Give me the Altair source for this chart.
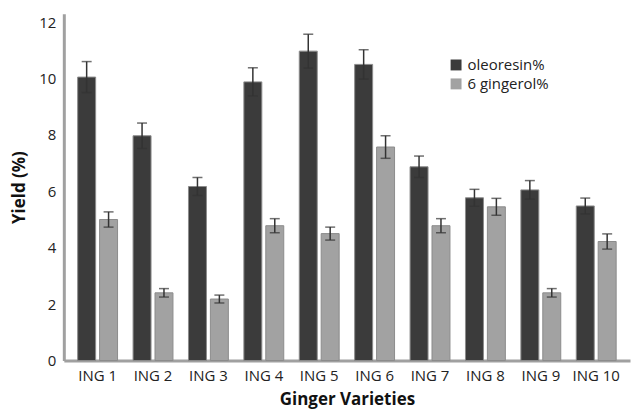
import altair as alt
import pandas as pd

categories = ["ING 1", "ING 2", "ING 3", "ING 4", "ING 5", "ING 6", "ING 7", "ING 8", "ING 9", "ING 10"]
oleoresin = [10.05, 7.97, 6.17, 9.88, 10.97, 10.5, 6.87, 5.77, 6.05, 5.48]
oleoresin_err = [0.55, 0.45, 0.32, 0.5, 0.6, 0.52, 0.38, 0.3, 0.33, 0.28]
gingerol = [5.0, 2.4, 2.18, 4.78, 4.5, 7.57, 4.78, 5.45, 2.4, 4.22]
gingerol_err = [0.27, 0.15, 0.14, 0.25, 0.23, 0.4, 0.25, 0.3, 0.15, 0.27]
series = ["oleoresin%", "6 gingerol%"]

rows = []
for i, c in enumerate(categories):
    rows.append({"cat": c, "series": series[0], "val": oleoresin[i],
                 "lo": oleoresin[i] - oleoresin_err[i], "hi": oleoresin[i] + oleoresin_err[i]})
    rows.append({"cat": c, "series": series[1], "val": gingerol[i],
                 "lo": gingerol[i] - gingerol_err[i], "hi": gingerol[i] + gingerol_err[i]})
df = pd.DataFrame(rows)

FONT = "Open Sans"
x = alt.X("cat:N", sort=categories, title="Ginger Varieties",
          scale=alt.Scale(paddingInner=0.28, paddingOuter=0.25),
          axis=alt.Axis(labelAngle=0, ticks=False, domainColor="#a0a0a0", domainWidth=3,
                        labelFont=FONT, labelFontSize=15, labelColor="#222",
                        labelPadding=8, titleFont=FONT, titleFontSize=17,
                        titleFontWeight="bold", titleColor="#111", titlePadding=8))
xo = alt.XOffset("series:N", sort=series, scale=alt.Scale(paddingInner=0.18))
ysc = alt.Scale(domain=[0, 12.3], nice=False)

bars = alt.Chart(df).mark_bar(stroke="#8c8c8c", strokeWidth=1).encode(
    x=x, xOffset=xo,
    y=alt.Y("val:Q", scale=ysc, title="Yield (%)",
            axis=alt.Axis(values=[0, 2, 4, 6, 8, 10, 12], ticks=False, grid=False,
                          domainColor="#a0a0a0", domainWidth=3, labelFont=FONT,
                          labelFontSize=15, labelColor="#222", labelPadding=8,
                          titleFont=FONT, titleFontSize=17, titleFontWeight="bold",
                          titleColor="#111", titlePadding=10)),
    color=alt.Color("series:N", sort=series,
                    scale=alt.Scale(domain=series, range=["#3b3b3b", "#a2a2a2"]),
                    legend=alt.Legend(title=None, orient="none", legendX=386, legendY=44,
                                      symbolType="square", symbolSize=120,
                                      symbolStrokeWidth=0, labelFont=FONT,
                                      labelFontSize=15, labelColor="#222",
                                      rowPadding=3, labelOffset=4)),
)

rules = alt.Chart(df).mark_rule(color="#333", strokeWidth=1.5).encode(
    x=alt.X("cat:N", sort=categories), xOffset=xo,
    y=alt.Y("lo:Q", scale=ysc), y2="hi:Q")
caps_hi = alt.Chart(df).mark_tick(color="#333", thickness=1.5, size=10).encode(
    x=alt.X("cat:N", sort=categories), xOffset=xo, y=alt.Y("hi:Q", scale=ysc))
caps_lo = alt.Chart(df).mark_tick(color="#333", thickness=1.5, size=10).encode(
    x=alt.X("cat:N", sort=categories), xOffset=xo, y=alt.Y("lo:Q", scale=ysc))

chart = alt.layer(bars, rules, caps_hi, caps_lo).properties(
    width=568, height=348,
    autosize=alt.AutoSizeParams(type="none"),
    padding={"left": 56, "top": 5, "right": 2, "bottom": 50},
).configure_view(stroke=None).configure_axis(grid=False)

chart.save("out.html", embed_options={"renderer": "svg", "actions": False})
